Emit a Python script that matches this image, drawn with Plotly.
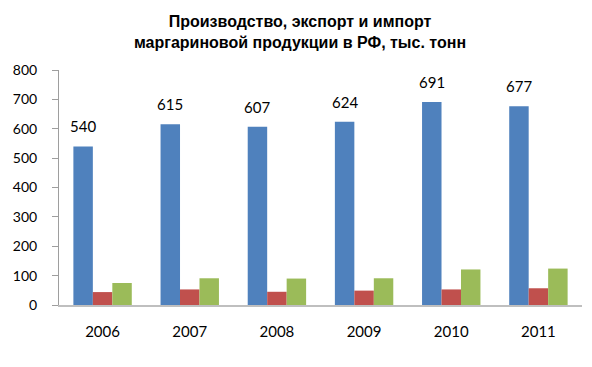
import plotly.graph_objects as go

years = ["2006", "2007", "2008", "2009", "2010", "2011"]
production = [540, 615, 607, 624, 691, 677]
export = [44, 53, 45, 49, 53, 57]
imports = [75, 91, 90, 91, 121, 124]
prod_labels = ["540", "615", "607", "624", "691", "677"]

BLUE = "#4F81BD"
RED = "#C0504D"
GREEN = "#9BBB59"
LABEL_FONT = dict(family="Lato, Open Sans, sans-serif", size=15, color="#000000")

BARGAP = 0.33
fig = go.Figure()
fig.add_trace(go.Bar(x=years, y=production, marker=dict(color=BLUE, line=dict(width=0)), name="Производство"))
fig.add_trace(go.Bar(x=years, y=export, marker=dict(color=RED, line=dict(width=0)), name="Экспорт"))
fig.add_trace(go.Bar(x=years, y=imports, marker=dict(color=GREEN, line=dict(width=0)), name="Импорт"))

# value labels above the production bars (first bar in each group)
bar_w = (1 - BARGAP) / 3
for i, (v, lab) in enumerate(zip(production, prod_labels)):
    fig.add_annotation(
        x=i - bar_w, y=v, xref="x", yref="y", text=lab, showarrow=False,
        yanchor="bottom", xanchor="center", yshift=9, font=LABEL_FONT,
    )

fig.update_layout(
    width=584, height=359,
    margin=dict(l=51, r=10, t=62, b=62, autoexpand=False),
    paper_bgcolor="white", plot_bgcolor="white",
    barmode="group", bargap=BARGAP, bargroupgap=0,
    showlegend=False,
    title=dict(
        text="Производство, экспорт и импорт<br>маргариновой продукции в РФ, тыс. тонн",
        x=0.5, xanchor="center", y=0.946, yanchor="top", automargin=False,
        font=dict(family="Liberation Sans, Arial, sans-serif", size=16, color="#000000", weight="bold"),
    ),
)
fig.update_xaxes(
    type="category", showgrid=False, showline=True, linecolor="#BFBFBF", linewidth=2,
    ticks="", ticklabelstandoff=12, automargin=False,
    tickfont=dict(family="Lato, Open Sans, sans-serif", size=15, color="#000000"),
)
fig.update_yaxes(
    range=[0, 800], dtick=100, showgrid=False, zeroline=False,
    showline=True, linecolor="#9E9E9E", linewidth=1,
    ticks="outside", ticklen=6, tickcolor="#9E9E9E",
    ticklabelstandoff=12, automargin=False,
    tickfont=dict(family="Lato, Open Sans, sans-serif", size=14, color="#000000"),
)

fig.write_html("out.html")
